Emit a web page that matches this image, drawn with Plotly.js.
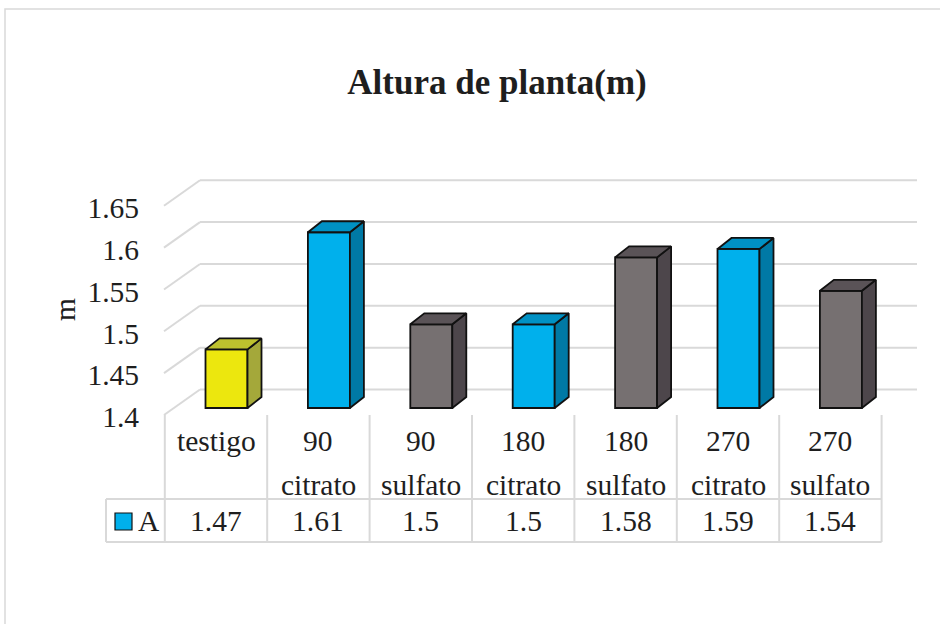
<!DOCTYPE html>
<html><head><meta charset="utf-8">
<script src="https://cdn.plot.ly/plotly-3.0.1.min.js"></script>
<style>html,body{margin:0;padding:0;background:#fff;}#chart{width:940px;height:624px;}</style>
</head><body><div id="chart"></div>
<script>
// ---- data ----
const categories = ["testigo","90 citrato","90 sulfato","180 citrato","180 sulfato","270 citrato","270 sulfato"];
const values = [1.47, 1.61, 1.5, 1.5, 1.58, 1.59, 1.54];
const valueLabels = ["1.47","1.61","1.5","1.5","1.58","1.59","1.54"];
const yTickVals = [1.4, 1.45, 1.5, 1.55, 1.6, 1.65];
const yTickText = ["1.4","1.45","1.5","1.55","1.6","1.65"];
const seriesName = "A";
const chartTitle = "Altura de planta(m)";
const yTitle = "m";

// ---- geometry ----
const W = 940, H = 624, M = {l: 96, r: 20, t: 150, b: 204};
const PW = W - M.l - M.r, PH = H - M.t - M.b;
const CAT_PX = 102.4, X0_PX = 216;
const BASE = 1.4, BASE_PX = 408, UNIT_PX = 837;
const xRange = [(M.l - X0_PX) / CAT_PX, (W - M.r - X0_PX) / CAT_PX];
const yRange = [BASE - (H - M.b - BASE_PX) / UNIT_PX, BASE + (BASE_PX - M.t) / UNIT_PX];
const dx = p => p / CAT_PX;
const dy = p => p / UNIT_PX;
const xAt = p => (p - X0_PX) / CAT_PX;
const pX = p => (p - M.l) / PW;
const pY = p => (H - M.b - p) / PH;

const FONT = "Liberation Serif";
const TXT = "#1e1e1e";
const GRID = "#d9d9d9";
const EDGE = "#111111";

const palette = {
  testigo: {front: "#ECE70E", side: "#A4A83A", top: "#BDC12E"},
  citrato: {front: "#00B0EC", side: "#0079A5", top: "#0091C4"},
  sulfato: {front: "#767071", side: "#4D464B", top: "#5A5357"}
};
const kind = c => c.includes("citrato") ? "citrato" : (c.includes("sulfato") ? "sulfato" : "testigo");

const BAR_OFF = dx(10.5), BAR_W = dx(42), DEP_X = dx(14), DEP_Y = dy(11);

const traces = [];
traces.push({
  type: "bar",
  x: categories.map((c, i) => i + BAR_OFF),
  y: values.map(v => v - BASE),
  base: BASE,
  width: BAR_W,
  marker: {color: categories.map(c => palette[kind(c)].front), line: {color: EDGE, width: 1.8}},
  hoverinfo: "skip", showlegend: false
});
categories.forEach((c, i) => {
  const v = values[i];
  const xl = i + BAR_OFF - BAR_W / 2, xr = i + BAR_OFF + BAR_W / 2;
  const col = palette[kind(c)];
  traces.push({
    type: "scatter", mode: "lines", fill: "toself", fillcolor: col.side,
    x: [xr, xr + DEP_X, xr + DEP_X, xr, xr],
    y: [BASE, BASE + DEP_Y, v + DEP_Y, v, BASE],
    line: {color: EDGE, width: 1.8}, hoverinfo: "skip", showlegend: false
  });
  traces.push({
    type: "scatter", mode: "lines", fill: "toself", fillcolor: col.top,
    x: [xl, xr, xr + DEP_X, xl + DEP_X, xl],
    y: [v, v, v + DEP_Y, v + DEP_Y, v],
    line: {color: EDGE, width: 1.8}, hoverinfo: "skip", showlegend: false
  });
});

const shapes = [];
// back wall gridlines + side wall diagonals
yTickVals.forEach(v => {
  shapes.push({type: "line", layer: "below", xref: "x", yref: "y",
    x0: xAt(200), x1: xAt(917), y0: v + dy(18.5), y1: v + dy(18.5),
    line: {color: GRID, width: 2}});
  shapes.push({type: "line", layer: "below", xref: "x", yref: "y",
    x0: xAt(164), y0: v - dy(7), x1: xAt(200), y1: v + dy(18.5),
    line: {color: GRID, width: 2}});
});
// data table lines
for (let k = 0; k <= categories.length; k++) {
  shapes.push({type: "line", xref: "x", yref: "paper",
    x0: k - 0.5, x1: k - 0.5, y0: pY(415), y1: pY(542),
    line: {color: GRID, width: 2}});
}
shapes.push({type: "line", xref: "x", yref: "paper",
  x0: xAt(106), x1: xAt(106), y0: pY(499), y1: pY(542), line: {color: GRID, width: 2}});
[499, 542].forEach(py => shapes.push({type: "line", xref: "x", yref: "paper",
  x0: xAt(106), x1: categories.length - 0.5, y0: pY(py), y1: pY(py), line: {color: GRID, width: 2}}));
// legend key
shapes.push({type: "rect", xref: "paper", yref: "paper",
  x0: pX(115), x1: pX(132), y0: pY(513), y1: pY(530),
  fillcolor: palette.citrato.front, line: {color: EDGE, width: 1.2}});
// outer chart border
shapes.push({type: "rect", xref: "paper", yref: "paper",
  x0: pX(5), x1: pX(960), y0: pY(9), y1: pY(650),
  line: {color: GRID, width: 1.5}});

const annotations = [];
const fT = {family: FONT, size: 29.5, color: TXT};
categories.forEach((c, i) => {
  const parts = c.split(" ");
  annotations.push({xref: "x", yref: "paper", x: i, y: pY(441), text: parts[0],
    showarrow: false, xanchor: "center", yanchor: "middle", font: fT});
  if (parts.length > 1) annotations.push({xref: "x", yref: "paper", x: i, y: pY(485),
    text: parts.slice(1).join(" "), showarrow: false, xanchor: "center", yanchor: "middle", font: fT});
  annotations.push({xref: "x", yref: "paper", x: i, y: pY(521), text: valueLabels[i],
    showarrow: false, xanchor: "center", yanchor: "middle", font: fT});
});
annotations.push({xref: "paper", yref: "paper", x: pX(136), y: pY(521), text: seriesName,
  showarrow: false, xanchor: "left", yanchor: "middle", font: fT});
annotations.push({xref: "paper", yref: "paper", x: pX(65), y: pY(310), text: yTitle,
  textangle: -90, showarrow: false, xanchor: "center", yanchor: "middle", font: fT});

const layout = {
  width: W, height: H, margin: M,
  paper_bgcolor: "#ffffff", plot_bgcolor: "rgba(0,0,0,0)",
  showlegend: false,
  font: {family: FONT, color: TXT},
  title: {text: "<b>" + chartTitle + "</b>", font: {family: FONT, size: 35, color: TXT},
    xref: "container", yref: "container", x: 497 / W, xanchor: "center", y: 1 - 82 / H, yanchor: "middle"},
  xaxis: {range: xRange, visible: false, fixedrange: true},
  yaxis: {range: yRange, tickvals: yTickVals, ticktext: yTickText, showgrid: false, zeroline: false,
    showline: false, ticks: "", anchor: "free", position: pX(139), ticklabelshift: 9,
    automargin: false, tickfont: fT, fixedrange: true},
  shapes: shapes,
  annotations: annotations
};
Plotly.newPlot("chart", traces, layout, {displayModeBar: false, staticPlot: true});
</script>
</body></html>
